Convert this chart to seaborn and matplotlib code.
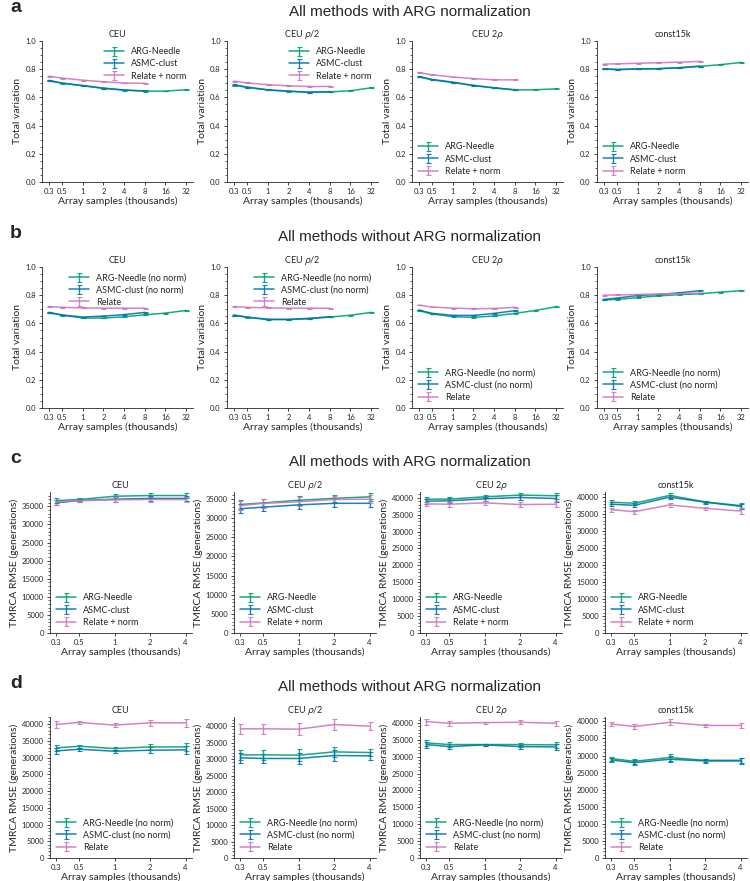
import matplotlib
matplotlib.use("Agg")
import matplotlib.pyplot as plt
import seaborn as sns

sns.set_theme(style="ticks")
plt.rcParams['font.family'] = ['Lato', 'DejaVu Sans']
plt.rcParams['mathtext.fontset'] = 'dejavusans'

# x values (thousands of array samples)
x_tv = [0.32, 0.5, 1, 2, 4, 8, 16, 32]
x_rmse = [0.32, 0.5, 1, 2, 4]
tv_ticklabels = ["0.3", "0.5", "1", "2", "4", "8", "16", "32"]
rmse_ticklabels = ["0.3", "0.5", "1", "2", "4"]

panel_titles = ["CEU", r"CEU $\rho$/2", r"CEU 2$\rho$", "const15k"]

# a: total variation, with ARG normalization
a_needle = [[0.717, 0.700, 0.682, 0.664, 0.651, 0.644, 0.645, 0.654],
            [0.687, 0.671, 0.652, 0.643, 0.636, 0.639, 0.647, 0.668],
            [0.745, 0.725, 0.705, 0.684, 0.667, 0.653, 0.654, 0.661],
            [0.801, 0.797, 0.801, 0.803, 0.809, 0.820, 0.832, 0.848]]
a_asmc = [[0.720, 0.702, 0.684, 0.666, 0.653, 0.646],
          [0.690, 0.673, 0.654, 0.645, 0.637, 0.640],
          [0.748, 0.727, 0.708, 0.685, 0.668, 0.654],
          [0.803, 0.798, 0.802, 0.804, 0.811, 0.822]]
a_relate = [[0.750, 0.737, 0.722, 0.711, 0.702, 0.700],
            [0.715, 0.703, 0.690, 0.682, 0.677, 0.678],
            [0.776, 0.760, 0.745, 0.733, 0.725, 0.724],
            [0.836, 0.838, 0.842, 0.846, 0.850, 0.855]]

# b: total variation, without ARG normalization
b_needle = [[0.675, 0.658, 0.638, 0.638, 0.647, 0.661, 0.673, 0.692],
            [0.657, 0.643, 0.627, 0.627, 0.633, 0.645, 0.658, 0.678],
            [0.690, 0.667, 0.648, 0.643, 0.653, 0.671, 0.692, 0.718],
            [0.767, 0.770, 0.783, 0.795, 0.804, 0.810, 0.822, 0.832]]
b_asmc = [[0.678, 0.660, 0.645, 0.652, 0.662, 0.678],
          [0.659, 0.645, 0.629, 0.629, 0.636, 0.647],
          [0.695, 0.671, 0.657, 0.657, 0.671, 0.690],
          [0.770, 0.780, 0.798, 0.805, 0.817, 0.832]]
b_relate = [[0.720, 0.714, 0.710, 0.708, 0.708, 0.708],
            [0.720, 0.714, 0.710, 0.708, 0.708, 0.708],
            [0.730, 0.716, 0.708, 0.704, 0.706, 0.714],
            [0.800, 0.802, 0.805, 0.808, 0.811, 0.815]]

# c: TMRCA RMSE, with ARG normalization
c_needle = [[36600, 36900, 37800, 38000, 38000],
            [33600, 34000, 34700, 35200, 35600],
            [39600, 39600, 40300, 40800, 40600],
            [38500, 38200, 40500, 38600, 37500]]
c_asmc = [[36000, 36600, 37000, 37200, 37200],
          [32500, 32900, 33500, 33900, 33900],
          [39000, 39100, 39700, 40100, 39800],
          [37900, 37600, 40000, 38500, 37300]]
c_relate = [[36200, 36600, 36800, 36900, 36900],
            [33300, 33900, 34300, 34900, 35000],
            [38200, 38100, 38500, 38000, 38100],
            [36300, 35700, 37700, 36700, 35900]]
c_err = [[700, 500, 700, 600, 800],
         [1100, 1100, 1200, 1000, 1000],
         [700, 700, 500, 700, 900],
         [600, 600, 700, 400, 800]]

# d: TMRCA RMSE, without ARG normalization
d_needle = [[32900, 33400, 32700, 33200, 33200],
            [31300, 31300, 31200, 32200, 32000],
            [34100, 33600, 33600, 33600, 33500],
            [29100, 28300, 29400, 28600, 28600]]
d_asmc = [[32000, 32500, 31900, 32200, 32300],
          [30400, 30200, 30200, 31100, 31000],
          [33600, 33000, 33500, 33000, 32900],
          [28700, 27900, 28900, 28400, 28400]]
d_relate = [[39900, 40500, 39700, 40400, 40400],
            [39200, 39200, 39100, 40500, 40000],
            [40400, 39900, 40100, 40200, 39900],
            [39200, 38500, 39700, 38800, 38800]]
d_err = [[1000, 500, 500, 900, 1200],
         [1500, 1500, 1800, 1600, 1200],
         [900, 700, 300, 600, 800],
         [600, 700, 900, 500, 800]]

pal = sns.color_palette("colorblind")
c_needle_col, c_asmc_col, c_relate_col = pal[2], pal[0], pal[4]

W, H = 750, 881
fig = plt.figure(figsize=(7.5, 8.81), dpi=100)


def draw_row(top_px, lefts_px, width_px, xs, ticklabels, series, ylabel, tv, legend_locs):
    for i in range(4):
        ax = fig.add_axes([lefts_px[i] / W, 1 - (top_px + 141) / H, width_px / W, 141 / H])
        for (label, ys, col, err) in series[i]:
            xx = xs[:len(ys)]
            e = err if err is not None else [0.003] * len(ys)
            ax.errorbar(xx, ys, yerr=e, color=col, lw=1.1, elinewidth=1.0,
                        capsize=1.8, capthick=0.8, label=label, alpha=0.9)
        ax.set_xscale("log")
        ax.set_xticks(xs)
        ax.set_xticklabels(ticklabels)
        ax.minorticks_off()
        if tv:
            ax.set_ylim(0, 1.0)
            ax.set_yticks([0, 0.2, 0.4, 0.6, 0.8, 1.0])
            ax.set_yticks([k / 20 for k in range(21)], minor=True)
        else:
            ax.set_ylim(bottom=0)
            top = ax.get_ylim()[1]
            ax.set_yticks([v for v in range(0, 45000, 5000) if v <= top])
            ax.set_yticks(range(0, int(top), 1000), minor=True)
            ax.set_ylim(0, top)
        ax.tick_params(axis="both", which="major", labelsize=5.5, length=2.5, width=0.6, pad=2)
        ax.tick_params(axis="y", which="minor", length=1.3, width=0.5)
        ax.set_title(panel_titles[i], fontsize=6.5, pad=3)
        ax.set_xlabel("Array samples (thousands)", fontsize=7.5, labelpad=1)
        ax.set_ylabel(ylabel, fontsize=7.5, labelpad=2)
        for s in ax.spines.values():
            s.set_linewidth(0.6)
        sns.despine(ax=ax)
        ax.legend(loc=legend_locs[i], frameon=False, fontsize=6.5, handlelength=2.2,
                  labelspacing=0.35, borderaxespad=0.3)


def build(needle, asmc, relate, names, err=None):
    out = []
    for i in range(4):
        e = err[i] if err is not None else None
        out.append([(names[0], needle[i], c_needle_col, e),
                    (names[1], asmc[i], c_asmc_col, e),
                    (names[2], relate[i], c_relate_col, e)])
    return out


names_norm = ["ARG-Needle", "ASMC-clust", "Relate + norm"]
names_raw = ["ARG-Needle (no norm)", "ASMC-clust (no norm)", "Relate"]
locs_tv = ["upper right", "upper right", "lower left", "lower left"]
locs_rmse = ["lower left"] * 4

lefts_tv = [42, 227, 412, 597]
lefts_rmse = [50, 234, 420, 605]

draw_row(41, lefts_tv, 151, x_tv, tv_ticklabels, build(a_needle, a_asmc, a_relate, names_norm),
         "Total variation", True, locs_tv)
draw_row(267, lefts_tv, 151, x_tv, tv_ticklabels, build(b_needle, b_asmc, b_relate, names_raw),
         "Total variation", True, locs_tv)
draw_row(492, lefts_rmse, 142, x_rmse, rmse_ticklabels,
         build(c_needle, c_asmc, c_relate, names_norm, c_err),
         "TMRCA RMSE (generations)", False, locs_rmse)
draw_row(717, lefts_rmse, 142, x_rmse, rmse_ticklabels,
         build(d_needle, d_asmc, d_relate, names_raw, d_err),
         "TMRCA RMSE (generations)", False, locs_rmse)

# row headers and panel letters
headers = [("a", "All methods with ARG normalization", 12),
           ("b", "All methods without ARG normalization", 237),
           ("c", "All methods with ARG normalization", 462),
           ("d", "All methods without ARG normalization", 687)]
for letter, text, y in headers:
    fig.text(10 / W, 1 - (y - 4) / H, letter, fontsize=14, fontweight="bold",
             family="Liberation Sans", va="center")
    fig.text(410 / W, 1 - y / H, text, fontsize=11, family="Liberation Sans",
             ha="center", va="center")

fig.savefig("out.png", dpi=100)
